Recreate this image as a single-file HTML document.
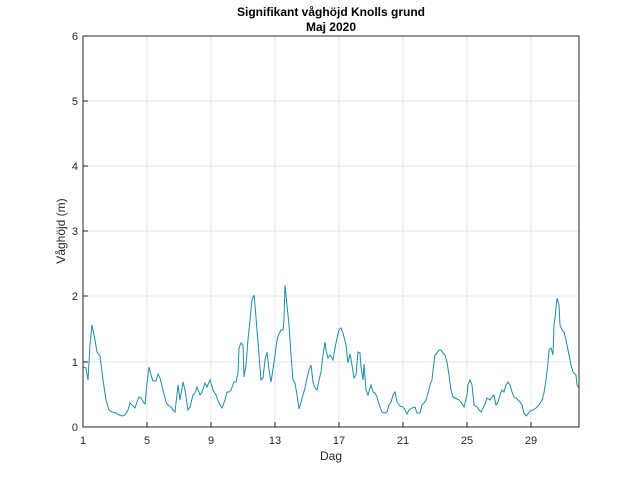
<!DOCTYPE html>
<html><head><meta charset="utf-8"><style>body{margin:0;background:#fff}svg{display:block}</style></head><body>
<svg width="640" height="480" xmlns="http://www.w3.org/2000/svg" font-family="Liberation Sans, sans-serif">
<rect width="640" height="480" fill="#fff"/>
<g stroke="#e6e6e6" stroke-width="1">
<line x1="147" y1="36" x2="147" y2="427"/><line x1="211" y1="36" x2="211" y2="427"/><line x1="275" y1="36" x2="275" y2="427"/><line x1="339" y1="36" x2="339" y2="427"/><line x1="403" y1="36" x2="403" y2="427"/><line x1="467" y1="36" x2="467" y2="427"/><line x1="531" y1="36" x2="531" y2="427"/>
<line x1="83" y1="362" x2="579" y2="362"/><line x1="83" y1="296" x2="579" y2="296"/><line x1="83" y1="231" x2="579" y2="231"/><line x1="83" y1="166" x2="579" y2="166"/><line x1="83" y1="101" x2="579" y2="101"/>
</g>
<polyline fill="none" stroke="#1f8aa8" stroke-width="1" points="83,367 86,368 88,380 90,345 92,325 95,340 97,352 100,356 103,380 106,400 109,410 112,412 116,413 119,415 122,416 125,415 128,410 130,403 132,405 135,408 137,402 139,397 141,398 144,403 145,404 147,383 149,367 151,375 153,381 156,381 158,374 160,378 163,390 166,402 168,405 171,407 173,410 175,412 178,385 180,400 183,382 185,390 188,410 190,407 193,395 195,393 197,387 200,395 202,392 205,383 207,387 210,380 213,390 216,395 219,403 222,408 225,400 227,392 229,392 231,390 234,382 236,382 238,373 239,348 241,343 243,345 244,377 246,365 248,340 250,320 252,300 254,295 255,305 257,330 259,355 261,380 263,378 265,360 267,352 269,370 271,382 273,369 275,355 277,340 279,334 281,330 283,330 284,320 285,285 287,305 289,325 291,355 293,380 295,383 297,395 299,409 301,402 303,395 305,388 307,378 309,370 311,365 313,382 315,388 317,390 319,380 321,372 323,355 325,342 326,350 328,358 330,355 333,360 335,348 337,338 339,330 341,328 343,333 346,345 348,363 350,354 352,365 354,378 356,375 358,352 360,353 361,367 363,380 364,364 366,390 368,395 371,385 373,392 375,393 377,397 379,404 382,412 385,413 387,412 389,405 391,402 393,395 395,392 397,402 400,406 403,407 405,410 407,414 409,410 412,408 415,407 417,413 420,413 422,405 424,403 426,400 428,393 430,385 432,380 433,370 435,355 437,353 439,350 441,350 443,353 445,355 447,362 449,375 451,390 453,397 457,399 459,400 461,402 464,407 467,395 468,385 470,380 472,385 474,405 477,407 479,410 481,412 483,408 485,404 487,398 490,400 492,397 494,395 496,405 498,402 500,395 502,390 504,392 506,385 508,382 510,385 512,392 514,397 516,398 518,400 520,402 522,405 524,413 526,416 528,414 530,411 533,410 536,408 539,405 542,400 544,393 546,380 548,363 549,350 551,348 553,355 554,325 555,318 557,298 559,305 560,325 562,330 564,332 566,340 569,355 571,365 573,372 576,375 577,385 579,388"/>
<rect x="83" y="36" width="496" height="391" fill="none" stroke="#262626" stroke-width="1"/>
<g stroke="#262626">
<line x1="147" y1="427" x2="147" y2="422"/><line x1="211" y1="427" x2="211" y2="422"/><line x1="275" y1="427" x2="275" y2="422"/><line x1="339" y1="427" x2="339" y2="422"/><line x1="403" y1="427" x2="403" y2="422"/><line x1="467" y1="427" x2="467" y2="422"/><line x1="531" y1="427" x2="531" y2="422"/>
<line x1="83" y1="362" x2="88" y2="362"/><line x1="83" y1="296" x2="88" y2="296"/><line x1="83" y1="231" x2="88" y2="231"/><line x1="83" y1="166" x2="88" y2="166"/><line x1="83" y1="101" x2="88" y2="101"/>
</g>
<g font-size="11" fill="#262626" text-anchor="middle">
<text x="83" y="444">1</text><text x="147" y="444">5</text><text x="211" y="444">9</text><text x="275" y="444">13</text><text x="339" y="444">17</text><text x="403" y="444">21</text><text x="467" y="444">25</text><text x="531" y="444">29</text>
</g>
<g font-size="11" fill="#262626" text-anchor="end">
<text x="78" y="431">0</text><text x="78" y="366">1</text><text x="78" y="300">2</text><text x="78" y="235">3</text><text x="78" y="170">4</text><text x="78" y="105">5</text><text x="78" y="40">6</text>
</g>
<text x="331" y="460" font-size="12" text-anchor="middle" fill="#262626">Dag</text>
<text transform="translate(65,231) rotate(-90)" font-size="12" text-anchor="middle" fill="#262626">Våghöjd (m)</text>
<text x="331" y="16" font-size="12" font-weight="bold" text-anchor="middle" fill="#000">Signifikant våghöjd Knolls grund</text>
<text x="331" y="31" font-size="12" font-weight="bold" text-anchor="middle" fill="#000">Maj 2020</text>
</svg>
</body></html>
